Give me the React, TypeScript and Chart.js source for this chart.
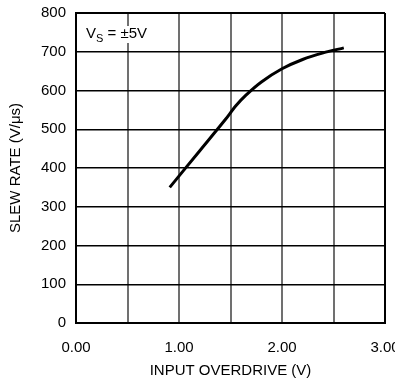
import React, { useEffect, useRef } from 'react';
import { Chart, registerables } from 'chart.js';

Chart.register(...registerables);

const overdrive = [0.91, 1.20, 1.45, 1.55, 1.65, 1.80, 2.00, 2.20, 2.40, 2.60];
const slewRate = [350, 444, 525, 560, 588, 622, 656, 680, 697, 710];
const xTickValues = [0, 0.5, 1, 1.5, 2, 2.5, 3];
const xTickLabels = ['0.00', '', '1.00', '', '2.00', '', '3.00'];
const yTickValues = [0, 100, 200, 300, 400, 500, 600, 700, 800];
const xTitle = 'INPUT OVERDRIVE (V)';
const yTitle = 'SLEW RATE (V/\u03BCs)';
const noteMain = 'V';
const noteSub = 'S';
const noteRest = ' = \u00B15V';

const FONT = 'Arial, "Liberation Sans", Helvetica, sans-serif';

const notePlugin = {
  id: 'note',
  afterDatasetsDraw(chart: any) {
    const { ctx, chartArea } = chart;
    const x0 = chartArea.left + 10;
    const base = chartArea.top + 25;
    ctx.save();
    ctx.fillStyle = '#fff';
    ctx.fillRect(chartArea.left + 8, chartArea.top + 13, 82, 17);
    ctx.fillStyle = '#000';
    ctx.textBaseline = 'alphabetic';
    ctx.textAlign = 'left';
    ctx.font = `15px ${FONT}`;
    ctx.fillText(noteMain, x0, base);
    let x = x0 + ctx.measureText(noteMain).width;
    ctx.font = `11px ${FONT}`;
    ctx.fillText(noteSub, x, base + 4);
    x += ctx.measureText(noteSub).width;
    ctx.font = `15px ${FONT}`;
    ctx.fillText(noteRest, x, base);
    ctx.restore();
  },
};

export default function App() {
  const ref = useRef<HTMLCanvasElement | null>(null);

  useEffect(() => {
    document.body.style.margin = '0';
    const canvas = ref.current;
    if (!canvas) return;
    const chart = new Chart(canvas, {
      type: 'line',
      data: {
        datasets: [
          {
            data: overdrive.map((x, i) => ({ x, y: slewRate[i] })),
            borderColor: '#000',
            borderWidth: 3,
            pointRadius: 0,
            tension: 0.3,
            fill: false,
          },
        ],
      },
      options: {
        responsive: false,
        animation: false,
        layout: { padding: { top: 13, right: 10, left: 0, bottom: 0 } },
        plugins: { legend: { display: false }, tooltip: { enabled: false } },
        scales: {
          x: {
            type: 'linear',
            min: 0,
            max: 3,
            afterBuildTicks: (scale: any) => {
              scale.ticks = xTickValues.map((v) => ({ value: v }));
            },
            afterFit: (scale: any) => {
              scale.height = 55;
              scale.paddingLeft = 0;
              scale.paddingRight = 0;
            },
            ticks: {
              autoSkip: false,
              maxRotation: 0,
              padding: 16,
              color: '#000',
              font: { family: FONT, size: 15 },
              callback: (v: any) => {
                const i = xTickValues.indexOf(Number(v));
                return i >= 0 ? xTickLabels[i] : '';
              },
            },
            grid: {
              drawTicks: false,
              color: (c: any) => (c.tick && c.tick.value === 3 ? '#000' : '#707070'),
              lineWidth: 2,
            },
            border: { display: true, color: '#000', width: 2 },
            title: {
              display: true,
              text: xTitle,
              color: '#000',
              font: { family: FONT, size: 15, lineHeight: 1 },
              padding: { top: 0, bottom: 0 },
            },
          },
          y: {
            type: 'linear',
            min: 0,
            max: 800,
            afterBuildTicks: (scale: any) => {
              scale.ticks = yTickValues.map((v) => ({ value: v }));
            },
            afterFit: (scale: any) => {
              scale.width = 76;
              scale.paddingTop = 0;
              scale.paddingBottom = 0;
            },
            ticks: {
              padding: 10,
              color: '#000',
              font: { family: FONT, size: 15 },
            },
            grid: {
              drawTicks: false,
              color: '#000',
              lineWidth: (c: any) => (c.tick && c.tick.value === 800 ? 2 : 1.5),
            },
            border: { display: true, color: '#000', width: 2 },
            title: {
              display: true,
              text: yTitle,
              color: '#000',
              font: { family: FONT, size: 15, lineHeight: 1 },
              padding: { top: 8, bottom: 0 },
            },
          },
        },
      },
      plugins: [notePlugin],
    } as any);
    return () => chart.destroy();
  }, []);

  return (
    <div style={{ width: 395, height: 378, background: '#fff' }}>
      <canvas ref={ref} width={395} height={378} />
    </div>
  );
}
